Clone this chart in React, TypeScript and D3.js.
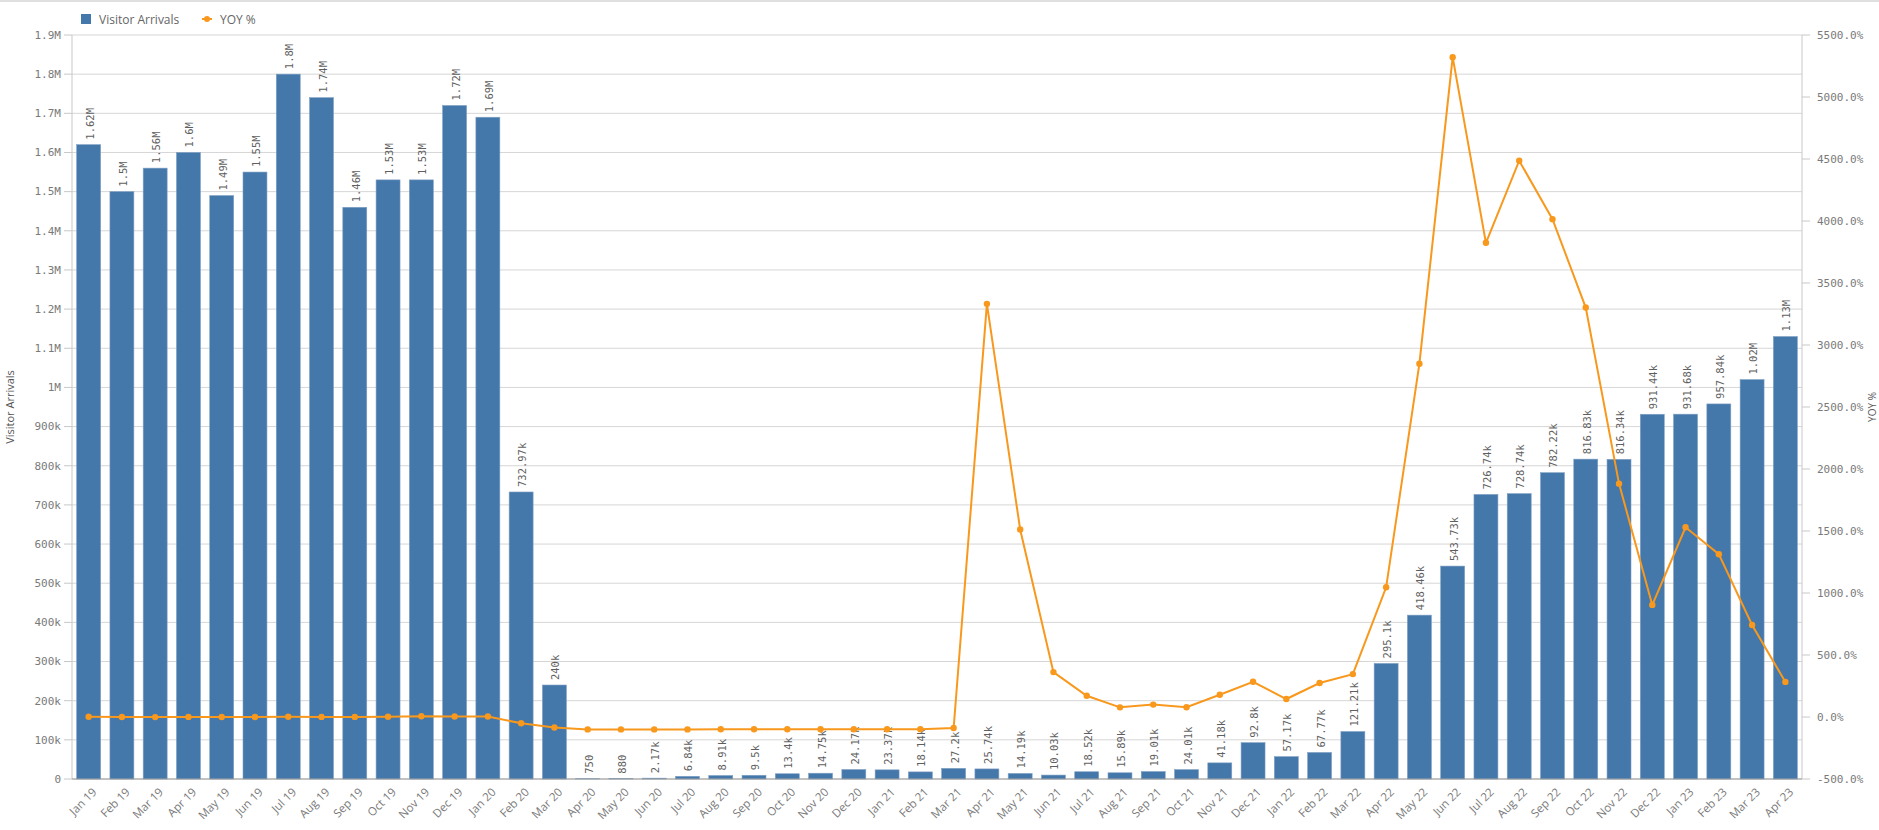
import React from "react";
import * as d3 from "d3";

const months = [
  "Jan 19","Feb 19","Mar 19","Apr 19","May 19","Jun 19","Jul 19","Aug 19","Sep 19","Oct 19","Nov 19","Dec 19",
  "Jan 20","Feb 20","Mar 20","Apr 20","May 20","Jun 20","Jul 20","Aug 20","Sep 20","Oct 20","Nov 20","Dec 20",
  "Jan 21","Feb 21","Mar 21","Apr 21","May 21","Jun 21","Jul 21","Aug 21","Sep 21","Oct 21","Nov 21","Dec 21",
  "Jan 22","Feb 22","Mar 22","Apr 22","May 22","Jun 22","Jul 22","Aug 22","Sep 22","Oct 22","Nov 22","Dec 22",
  "Jan 23","Feb 23","Mar 23","Apr 23",
];

const visitorArrivals = [
  1620000, 1500000, 1560000, 1600000, 1490000, 1550000, 1800000, 1740000, 1460000, 1530000, 1530000, 1720000,
  1690000, 732970, 240000, 750, 880, 2170, 6840, 8910, 9500, 13400, 14750, 24170,
  23370, 18140, 27200, 25740, 14190, 10030, 18520, 15890, 19010, 24010, 41180, 92800,
  57170, 67770, 121210, 295100, 418460, 543730, 726740, 728740, 782220, 816830, 816340, 931440,
  931680, 957840, 1020000, 1130000,
];

const yoyPct = [
  2, 0, -1, 1, 0, 0, 2, 1, 1, 2, 6, 4,
  4, -51, -85, -100, -100, -100, -100, -99, -99, -99, -99, -99,
  -99, -98, -89, 3332, 1512, 362, 171, 78, 100, 79, 179, 284,
  145, 274, 346, 1046, 2849, 5321, 3824, 4486, 4015, 3302, 1882, 904,
  1530, 1313, 742, 283,
];

const leftTicks = [0, 100000, 200000, 300000, 400000, 500000, 600000, 700000, 800000, 900000,
  1000000, 1100000, 1200000, 1300000, 1400000, 1500000, 1600000, 1700000, 1800000, 1900000];
const rightTicks = [-500, 0, 500, 1000, 1500, 2000, 2500, 3000, 3500, 4000, 4500, 5000, 5500];

const W = 1879;
const H = 830;
const M = { left: 72, right: 1802, top: 35, bottom: 779 };

const BAR = "#4477aa";
const LINE = "#f8981d";
const MONO = "'DejaVu Sans Mono', monospace";
const SANS = "'Open Sans', sans-serif";

function fmtShort(v: number): string {
  if (v >= 1e6) return `${+(v / 1e6).toFixed(2)}M`;
  if (v >= 1000) return `${+(v / 1000).toFixed(2)}k`;
  return `${v}`;
}
function fmtTick(v: number): string {
  if (v === 0) return "0";
  if (v >= 1e6) return `${+(v / 1e6).toFixed(1)}M`;
  return `${v / 1000}k`;
}

export default function App() {
  const x = d3.scaleBand<string>().domain(months).range([M.left, M.right]).paddingInner(0.28).paddingOuter(0.14);
  const y = d3.scaleLinear().domain([0, 1900000]).range([M.bottom, M.top]);
  const y2 = d3.scaleLinear().domain([-500, 5500]).range([M.bottom, M.top]);
  const bw = x.bandwidth();
  const cx = (m: string) => (x(m) as number) + bw / 2;

  const line = d3
    .line<number>()
    .x((_, i) => cx(months[i]))
    .y((d) => y2(d));

  return (
    <svg width={W} height={H} style={{ position: "absolute", left: 0, top: 0, background: "#fff" }}>
      <line x1={0} x2={W} y1={1} y2={1} stroke="#e0e0e0" strokeWidth={2} />
      {/* legend */}
      <rect x={81} y={14} width={10} height={10} fill={BAR} />
      <text x={99} y={23.5} fontFamily={SANS} fontSize={12} fill="#666">Visitor Arrivals</text>
      <line x1={202} x2={212} y1={19} y2={19} stroke={LINE} strokeWidth={2} />
      <circle cx={207} cy={19} r={3} fill={LINE} />
      <text x={220} y={23.5} fontFamily={SANS} fontSize={12} fill="#666">YOY %</text>

      {/* gridlines */}
      {leftTicks.map((t) => (
        <line key={"g" + t} x1={M.left} x2={M.right} y1={y(t)} y2={y(t)} stroke="#d6d6d6" strokeWidth={1} />
      ))}
      {/* left axis */}
      <line x1={M.left} x2={M.left} y1={M.top} y2={M.bottom} stroke="#c8c8c8" />
      {leftTicks.map((t) => (
        <g key={"lt" + t}>
          <line x1={M.left - 8} x2={M.left} y1={y(t)} y2={y(t)} stroke="#c8c8c8" />
          <text x={M.left - 11} y={y(t)} dy="0.35em" textAnchor="end" fontFamily={MONO} fontSize={11} fill="#7a7a7a">
            {fmtTick(t)}
          </text>
        </g>
      ))}
      <text transform={`translate(14,${(M.top + M.bottom) / 2}) rotate(-90)`} textAnchor="middle" fontFamily={SANS} fontSize={11} fill="#555">
        Visitor Arrivals
      </text>

      {/* right axis */}
      <line x1={M.right} x2={M.right} y1={M.top} y2={M.bottom} stroke="#c8c8c8" />
      {rightTicks.map((t) => (
        <g key={"rt" + t}>
          <line x1={M.right} x2={M.right + 8} y1={y2(t)} y2={y2(t)} stroke="#c8c8c8" />
          <text x={M.right + 15} y={y2(t)} dy="0.35em" textAnchor="start" fontFamily={MONO} fontSize={11} fill="#7a7a7a">
            {t.toFixed(1)}%
          </text>
        </g>
      ))}
      <text transform={`translate(1876,${(M.top + M.bottom) / 2}) rotate(-90)`} textAnchor="middle" fontFamily={SANS} fontSize={10} fill="#555">
        YOY %
      </text>

      {/* bars */}
      {visitorArrivals.map((v, i) => (
        <rect key={"b" + i} x={x(months[i])} y={y(v)} width={bw} height={M.bottom - y(v)} fill={BAR} stroke="#7fa0c4" strokeWidth={0.6} />
      ))}
      {/* bottom axis */}
      <line x1={M.left} x2={M.right} y1={M.bottom} y2={M.bottom} stroke="#999" />

      {/* bar labels */}
      {visitorArrivals.map((v, i) => (
        <text
          key={"bl" + i}
          transform={`translate(${cx(months[i]) + 1},${y(v) - 5}) rotate(-90)`}
          dominantBaseline="central"
          textAnchor="start"
          fontFamily={MONO}
          fontSize={10.5}
          fill="#5f5f5f"
        >
          {fmtShort(v)}
        </text>
      ))}

      {/* x labels */}
      {months.map((m) => (
        <text
          key={"x" + m}
          transform={`translate(${cx(m) + 2},${M.bottom + 7}) rotate(-45)`}
          textAnchor="end"
          dominantBaseline="hanging"
          fontFamily={SANS}
          fontSize={11.5}
          fill="#7a7a7a"
        >
          {m}
        </text>
      ))}

      {/* line */}
      <path d={line(yoyPct) || ""} fill="none" stroke={LINE} strokeWidth={2} />
      {yoyPct.map((p, i) => (
        <circle key={"c" + i} cx={cx(months[i])} cy={y2(p)} r={3.2} fill={LINE} />
      ))}
    </svg>
  );
}
